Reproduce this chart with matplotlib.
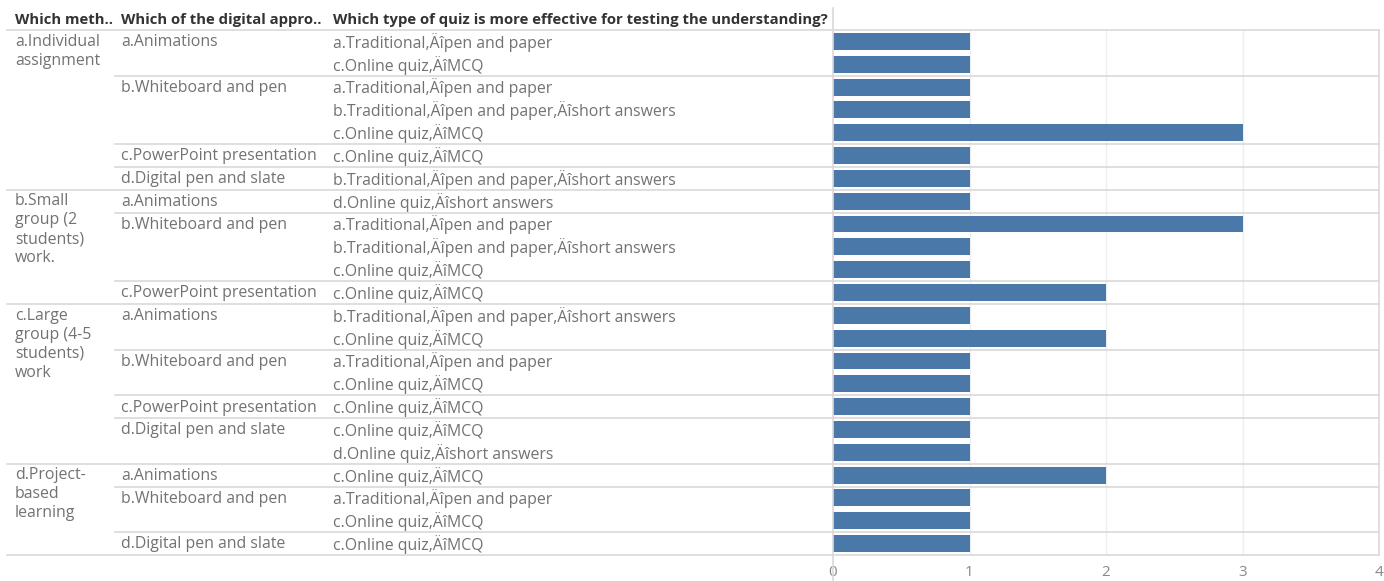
import matplotlib.pyplot as plt
from matplotlib.lines import Line2D
from matplotlib.transforms import blended_transform_factory

# one entry per bar row, outer to inner
methods = [
    'a.Individual\nassignment', '', '', '', '', '', '',
    'b.Small\ngroup (2\nstudents)\nwork.', '', '', '', '',
    'c.Large\ngroup (4-5\nstudents)\nwork', '', '', '', '', '', '',
    'd.Project-\nbased\nlearning', '', '', '',
]
approaches = [
    'a.Animations', '', 'b.Whiteboard and pen', '', '', 'c.PowerPoint presentation', 'd.Digital pen and slate',
    'a.Animations', 'b.Whiteboard and pen', '', '', 'c.PowerPoint presentation',
    'a.Animations', '', 'b.Whiteboard and pen', '', 'c.PowerPoint presentation', 'd.Digital pen and slate', '',
    'a.Animations', 'b.Whiteboard and pen', '', 'd.Digital pen and slate',
]
quiz_types = [
    'a.Traditional,Äîpen and paper',
    'c.Online quiz,ÄîMCQ',
    'a.Traditional,Äîpen and paper',
    'b.Traditional,Äîpen and paper,Äîshort answers',
    'c.Online quiz,ÄîMCQ',
    'c.Online quiz,ÄîMCQ',
    'b.Traditional,Äîpen and paper,Äîshort answers',
    'd.Online quiz,Äîshort answers',
    'a.Traditional,Äîpen and paper',
    'b.Traditional,Äîpen and paper,Äîshort answers',
    'c.Online quiz,ÄîMCQ',
    'c.Online quiz,ÄîMCQ',
    'b.Traditional,Äîpen and paper,Äîshort answers',
    'c.Online quiz,ÄîMCQ',
    'a.Traditional,Äîpen and paper',
    'c.Online quiz,ÄîMCQ',
    'c.Online quiz,ÄîMCQ',
    'c.Online quiz,ÄîMCQ',
    'd.Online quiz,Äîshort answers',
    'c.Online quiz,ÄîMCQ',
    'a.Traditional,Äîpen and paper',
    'c.Online quiz,ÄîMCQ',
    'c.Online quiz,ÄîMCQ',
]
counts = [1, 1, 1, 1, 3, 1, 1, 1, 3, 1, 1, 2, 1, 2, 1, 1, 1, 1, 1, 2, 1, 1, 1]
headers = ['Which meth..', 'Which of the digital appro..',
           'Which type of quiz is more effective for testing the understanding?']
x_ticks = [0, 1, 2, 3, 4]

plt.rcParams['font.family'] = ['Open Sans', 'DejaVu Sans']

W, H = 1384, 581
TEXT = '#727272'
LINE = '#d9d9d9'
BAR = '#4a79a9'
FS = 11.4

fig = plt.figure(figsize=(W / 100, H / 100), dpi=100)
top, bottom, left, right = 30, 555, 833, 1379
ax = fig.add_axes([left / W, 1 - bottom / H, (right - left) / W, (bottom - top) / H])

n = len(counts)
ax.barh(range(n), counts, height=0.74, color=BAR, zorder=3)
ax.set_xlim(0, 4)
ax.set_ylim(n - 0.5, -0.5)
ax.set_yticks([])
ax.set_xticks(x_ticks)
ax.set_xticklabels([str(t) for t in x_ticks], color='#888888', fontsize=11)
ax.tick_params(axis='x', length=0, pad=7)
for s in ax.spines.values():
    s.set_visible(False)
for t in x_ticks[1:-1]:
    ax.axvline(t, color='#eeeeee', lw=1, zorder=1)

tr = blended_transform_factory(fig.transFigure, ax.transData)


def hline(x0, y, color=LINE):
    fig.add_artist(Line2D([x0 / W, right / W], [y, y], transform=tr, color=color, lw=1.2))


col_x = [15, 121, 333]
for i in range(n):
    if methods[i]:
        ax.text(col_x[0] / W, i - 0.34, methods[i], transform=tr, ha='left', va='top',
                color=TEXT, fontsize=FS, linespacing=1.25, clip_on=False)
        if i > 0:
            hline(7, i - 0.5)
    elif approaches[i]:
        hline(115, i - 0.5)
    if approaches[i]:
        ax.text(col_x[1] / W, i + 0.04, approaches[i], transform=tr, ha='left', va='center',
                color=TEXT, fontsize=FS, clip_on=False)
    ax.text(col_x[2] / W, i + 0.04, quiz_types[i], transform=tr, ha='left', va='center',
            color=TEXT, fontsize=FS, clip_on=False)
hline(7, n - 0.5)

# header row
for x, h in zip(col_x, headers):
    fig.text(x / W, 1 - 20 / H, h, ha='left', va='center', fontsize=10.7,
             fontweight='bold', color='#333333')
fig.add_artist(Line2D([7 / W, right / W], [1 - top / H] * 2, transform=fig.transFigure,
                      color=LINE, lw=1.2))
fig.add_artist(Line2D([left / W] * 2, [1 - 8 / H, 0], transform=fig.transFigure,
                      color=LINE, lw=1.2))
fig.add_artist(Line2D([right / W] * 2, [1 - top / H, 1 - bottom / H],
                      transform=fig.transFigure, color=LINE, lw=1.2))

fig.savefig('out.png', dpi=100, facecolor='white')
